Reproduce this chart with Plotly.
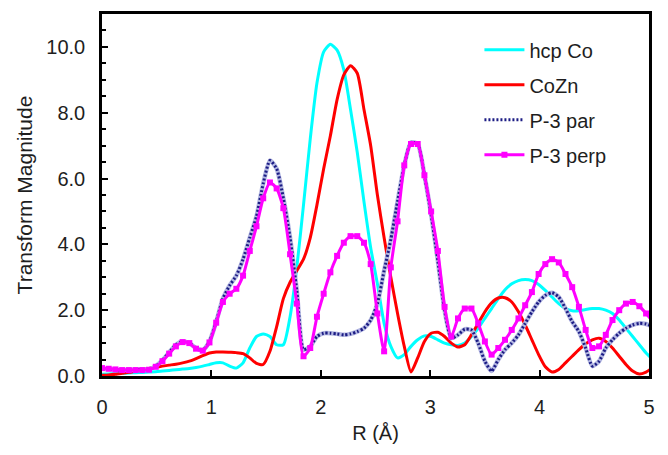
import numpy as np
import plotly.graph_objects as go

# Fourier-transform magnitude vs. radial distance R (Å), sampled every 0.0614 Å
R_STEP = 0.0614
R = np.round(np.arange(83) * R_STEP, 4)

hcp_co = [0.05, 0.06, 0.07, 0.08, 0.09, 0.10, 0.11, 0.12, 0.13, 0.15,
          0.17, 0.19, 0.21, 0.23, 0.26, 0.30, 0.35, 0.40, 0.40, 0.30,
          0.24, 0.40, 0.85, 1.20, 1.28, 1.20, 0.95, 0.95, 1.80, 3.30,
          5.20, 7.20, 8.90, 9.85, 10.08, 9.90, 9.30, 8.10, 6.80, 5.30,
          3.90, 2.80, 1.60, 0.90, 0.55, 0.65, 0.90, 1.10, 1.22, 1.20,
          1.10, 1.00, 0.95, 0.93, 1.00, 1.20, 1.45, 1.75, 2.05, 2.35,
          2.62, 2.80, 2.90, 2.93, 2.90, 2.78, 2.60, 2.40, 2.20, 2.05,
          1.98, 1.98, 2.02, 2.05, 2.05, 2.00, 1.90, 1.70, 1.45, 1.20,
          0.95, 0.70, 0.50]

co_zn = [0.02, 0.03, 0.05, 0.08, 0.11, 0.15, 0.19, 0.23, 0.27, 0.30,
         0.33, 0.36, 0.40, 0.45, 0.53, 0.62, 0.70, 0.73, 0.73, 0.72,
         0.71, 0.68, 0.55, 0.38, 0.35, 0.75, 1.50, 2.35, 2.85, 3.20,
         3.55, 4.20, 5.20, 6.30, 7.30, 8.40, 9.15, 9.43, 9.20, 8.10,
         7.00, 5.50, 4.20, 3.00, 1.90, 0.90, 0.12, 0.55, 1.05, 1.30,
         1.33, 1.20, 1.00, 0.88, 0.95, 1.25, 1.60, 1.95, 2.22, 2.37,
         2.38, 2.25, 1.95, 1.55, 1.10, 0.65, 0.28, 0.12, 0.20, 0.40,
         0.60, 0.80, 0.98, 1.10, 1.15, 1.05, 0.85, 0.60, 0.35, 0.15,
         0.06, 0.12, 0.25]

p3_par = [0.22, 0.21, 0.19, 0.18, 0.18, 0.19, 0.20, 0.21, 0.30, 0.48,
          0.72, 0.95, 1.05, 1.00, 0.85, 0.78, 1.05, 1.65, 2.35, 2.75,
          3.05, 3.55, 4.20, 4.85, 5.85, 6.55, 6.30, 5.40, 4.20, 2.60,
          0.80, 0.90, 1.20, 1.30, 1.30, 1.28, 1.25, 1.28, 1.35, 1.45,
          1.70, 2.20, 3.20, 4.15, 5.30, 6.40, 7.10, 7.05, 6.10, 4.90,
          3.50, 2.00, 1.15, 1.25, 1.42, 1.40, 1.00, 0.45, 0.15, 0.50,
          0.80, 1.00, 1.25, 1.60, 1.95, 2.25, 2.45, 2.53, 2.40, 2.05,
          1.65, 1.35, 0.85, 0.30, 0.45, 0.85, 1.10, 1.30, 1.45, 1.55,
          1.60, 1.58, 1.50]

p3_perp = [0.24, 0.22, 0.20, 0.18, 0.18, 0.18, 0.18, 0.19, 0.28, 0.45,
           0.68, 0.90, 1.03, 1.00, 0.83, 0.77, 1.02, 1.62, 2.25, 2.50,
           2.65, 3.05, 3.80, 4.55, 5.40, 5.88, 5.70, 5.10, 3.70, 2.20,
           0.60, 0.85, 1.80, 2.50, 3.15, 3.65, 4.05, 4.25, 4.25, 4.05,
           3.40, 1.90, 0.75, 3.30, 4.70, 6.40, 7.05, 7.05, 6.10, 5.00,
           3.80, 2.10, 1.20, 1.75, 2.05, 2.05, 1.60, 1.05, 0.65, 0.85,
           1.10, 1.40, 1.75, 2.15, 2.55, 3.10, 3.40, 3.55, 3.45, 3.10,
           2.70, 2.10, 1.40, 0.85, 0.90, 1.25, 1.70, 2.00, 2.20, 2.25,
           2.12, 1.90, 1.65]

x_ticks = [0, 1, 2, 3, 4, 5]
y_ticks = [0, 2, 4, 6, 8, 10]

FONT = "Liberation Sans, Arial, Helvetica, sans-serif"
TEXT = "#1e1e1e"

fig = go.Figure()

fig.add_trace(go.Scatter(
    x=R, y=hcp_co, name="hcp Co", mode="lines", legendgroup="a",
    line=dict(color="#00ffff", width=3, shape="spline", smoothing=0.6)))
fig.add_trace(go.Scatter(
    x=R, y=co_zn, name="CoZn", mode="lines", legendgroup="b",
    line=dict(color="#ff0000", width=3, shape="spline", smoothing=0.6)))
# textured navy line: pale base with a fine navy dash on top
fig.add_trace(go.Scatter(
    x=R, y=p3_par, mode="lines", legendgroup="c", showlegend=False,
    line=dict(color="#b4b8e2", width=4.5, shape="spline", smoothing=0.6),
    hoverinfo="skip"))
fig.add_trace(go.Scatter(
    x=R, y=p3_par, name="P-3 par", mode="lines", legendgroup="c",
    line=dict(color="#1c1c84", width=3, dash="2px,2px", shape="spline", smoothing=0.6)))
fig.add_trace(go.Scatter(
    x=R, y=p3_perp, name="P-3 perp", mode="lines+markers", legendgroup="d",
    line=dict(color="#ff00ff", width=3, shape="spline", smoothing=0.6),
    marker=dict(symbol="square", size=6, color="#ff00ff")))

fig.update_layout(
    width=668, height=455,
    margin=dict(l=102, r=19, t=11, b=79),
    paper_bgcolor="white", plot_bgcolor="white",
    font=dict(family=FONT, size=20, color=TEXT),
    showlegend=True,
    legend=dict(
        x=0.69, y=0.955, xanchor="left", yanchor="top",
        bgcolor="rgba(255,255,255,0)", borderwidth=0,
        font=dict(family=FONT, size=20, color=TEXT),
        traceorder="grouped", tracegroupgap=6, itemwidth=40),
)

fig.update_xaxes(
    range=[0, 5], tickvals=x_ticks, ticktext=[str(v) for v in x_ticks],
    ticks="inside", ticklen=6, tickwidth=2, tickcolor="black",
    showline=True, linecolor="black", linewidth=2.5, mirror=True,
    showgrid=False, zeroline=False, ticklabelstandoff=11,
    tickfont=dict(size=20),
    title=dict(text="R (Å)", font=dict(size=20, color=TEXT), standoff=10),
)
fig.update_yaxes(
    range=[0, 11], tickvals=y_ticks, ticktext=[f"{v:.1f}" for v in y_ticks],
    ticks="inside", ticklen=6, tickwidth=2, tickcolor="black",
    minor=dict(dtick=0.5, ticks="inside", ticklen=4, tickwidth=2, tickcolor="black"),
    showline=True, linecolor="black", linewidth=2.5, mirror=True,
    showgrid=False, zeroline=False, ticklabelstandoff=10,
    tickfont=dict(size=20),
    title=dict(text="Transform Magnitude", font=dict(size=21, color=TEXT), standoff=8),
)

fig.write_html("out.html")
